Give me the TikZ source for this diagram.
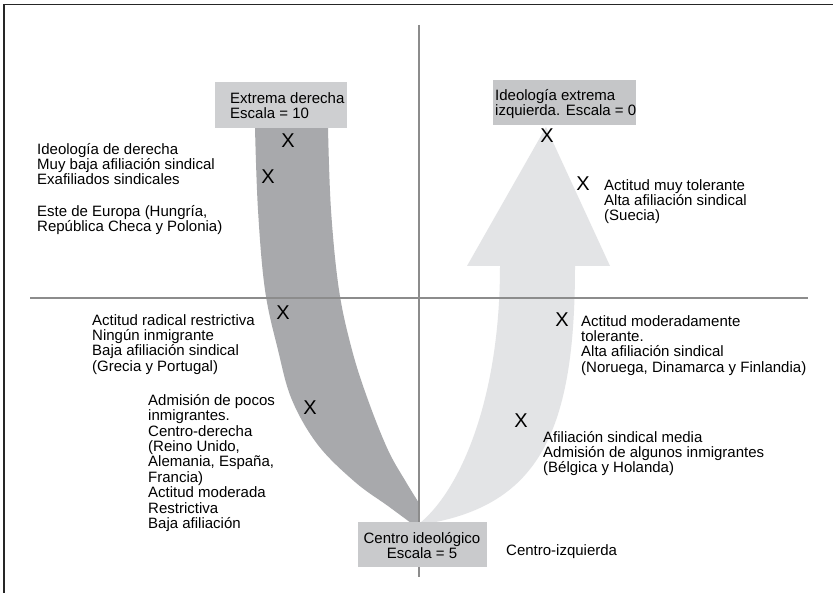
\documentclass[tikz,border=0pt]{standalone}
\usepackage{fontspec}
\setmainfont{Liberation Sans}
\newcommand\sx{\rule{0pt}{12pt}}
\definecolor{darkband}{HTML}{A8A9AC}
\definecolor{lightband}{HTML}{E3E4E6}
\definecolor{boxA}{HTML}{CECFD1}
\definecolor{boxB}{HTML}{C5C6C8}
\definecolor{boxC}{HTML}{C9CACC}
\definecolor{axis}{HTML}{8C8C8C}
\begin{document}
\begin{tikzpicture}[x=1pt,y=-1pt,
  lbl/.style={anchor=north west, align=left, inner sep=0pt, font=\fontsize{15}{15.4}\selectfont},
  clbl/.style={anchor=north, align=center, inner sep=0pt, font=\fontsize{15}{15.4}\selectfont},
  xmark/.style={inner sep=0pt, font=\fontsize{20}{20}\selectfont},
  boxnode/.style={draw=none, inner sep=0pt, anchor=north west}]
\useasboundingbox (0,0) rectangle (833,593);
\fill[white] (0,0) rectangle (833,593);
% frame
\draw[line width=1.3pt, black!85] (4,593) -- (4,4.5) -- (833,4.5);
% dark band
\fill[darkband] plot[smooth, tension=0.6] coordinates {(255,128) (258,210) (265,290) (278,350) (292,400) (318,445) (355,482) (388,506) (411,523)}
  -- (419,523) -- plot[smooth, tension=0.6] coordinates {(419,503) (406,482) (388,450) (368,400) (352,350) (339,290) (331,210) (328,128)} -- cycle;
% light arrow
\fill[lightband] (420,523) .. controls (460,490) and (500,400) .. (500,266) -- (467,266) -- (546,127) -- (610,266) -- (575,266)
  .. controls (575,430) and (540,505) .. (425,524) -- cycle;
% axes
\coordinate (vt) at (419,25);
\coordinate (vb) at (419,577);
\coordinate (hl) at (30,298);
\coordinate (hr) at (808,298);
\draw[axis, line width=1.2pt] (vt) -- (vb);
\draw[axis, line width=1.2pt] (hl) -- (hr);
% boxes
\node[boxnode, fill=boxA, minimum width=132pt, minimum height=46pt] (ed) at (215,82) {};
\node[boxnode, fill=boxB, minimum width=143pt, minimum height=45pt] (ei) at (493,80) {};
\node[boxnode, fill=boxC, minimum width=129pt, minimum height=45pt] (ci) at (358,522) {};
\node[lbl] (edt) at (230,91) {\sx Extrema derecha\\Escala = 10};
\node[lbl] (eit) at (495,88) {\sx Ideología extrema\\izquierda. Escala = 0};
\node[clbl] (cit) at (422,531) {\sx Centro ideológico\\Escala = 5};
% X marks
\node[xmark] (x1) at (288,141) {X};
\node[xmark] (x2) at (268,177) {X};
\node[xmark] (x3) at (547,136) {X};
\node[xmark] (x4) at (583,184) {X};
\node[xmark] (x5) at (283,313) {X};
\node[xmark] (x6) at (562,320) {X};
\node[xmark] (x7) at (310,408) {X};
\node[xmark] (x8) at (521,421) {X};
% texts left
\node[lbl] (t1) at (37,142) {\sx Ideología de derecha\\Muy baja afiliación sindical\\Exafiliados sindicales};
\node[lbl] (t2) at (37,204) {\sx Este de Europa (Hungría,\\República Checa y Polonia)};
\node[lbl] (t3) at (92,313) {\sx Actitud radical restrictiva\\Ningún inmigrante\\Baja afiliación sindical\\(Grecia y Portugal)};
\node[lbl] (t4) at (148,393) {\sx Admisión de pocos\\inmigrantes.\\Centro-derecha\\(Reino Unido,\\Alemania, España,\\Francia)\\Actitud moderada\\Restrictiva\\Baja afiliación};
% texts right
\node[lbl] (t5) at (604,178) {\sx Actitud muy tolerante\\Alta afiliación sindical\\(Suecia)};
\node[lbl] (t6) at (581,314) {\sx Actitud moderadamente\\tolerante.\\Alta afiliación sindical\\(Noruega, Dinamarca y Finlandia)};
\node[lbl] (t7) at (543,430) {\sx Afiliación sindical media\\Admisión de algunos inmigrantes\\(Bélgica y Holanda)};
\node[lbl] (t8) at (506,543) {\sx Centro-izquierda};
\end{tikzpicture}
\end{document}
